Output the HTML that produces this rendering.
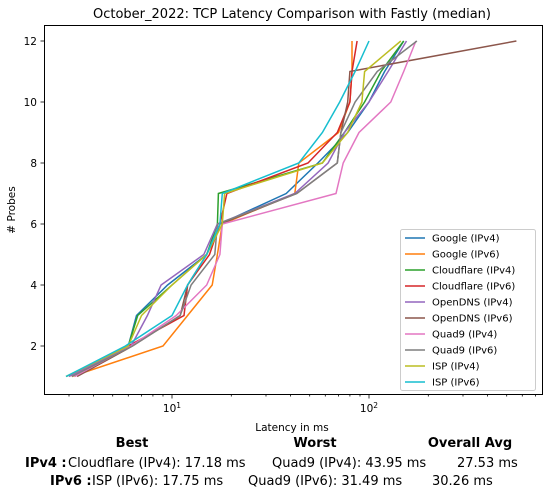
<!DOCTYPE html>
<html><head><meta charset="utf-8"><style>
body{margin:0;background:#fff;width:548px;height:494px;overflow:hidden;font-family:"DejaVu Sans","Liberation Sans",sans-serif}
svg text{font-family:"DejaVu Sans","Liberation Sans",sans-serif}
</style></head><body>
<svg id="chart" width="548" height="494" viewBox="0 0 548 494" xmlns="http://www.w3.org/2000/svg">
<text x="292" y="18" font-size="13" text-anchor="middle">October_2022: TCP Latency Comparison with Fastly (median)</text>
<g id="plot"></g>
<rect x="44.5" y="25.5" width="498" height="369" fill="none" stroke="#000" stroke-width="1"/>
<g id="axes"></g>
<text x="0" y="0" font-size="10.5" text-anchor="middle" transform="translate(15,210) rotate(-90)"># Probes</text>
<text x="292" y="431" font-size="10.5" text-anchor="middle">Latency in ms</text>
<g id="legend"></g>
<g font-size="13">
<text x="132" y="447" font-weight="bold" text-anchor="middle">Best</text>
<text x="315" y="447" font-weight="bold" text-anchor="middle">Worst</text>
<text x="470" y="447" font-weight="bold" text-anchor="middle">Overall Avg</text>
<text x="25" y="467" font-weight="bold">IPv4 :</text>
<text x="68" y="467">Cloudflare (IPv4): 17.18 ms</text>
<text x="272" y="467">Quad9 (IPv4): 43.95 ms</text>
<text x="457" y="467">27.53 ms</text>
<text x="50" y="485" font-weight="bold">IPv6 :</text>
<text x="92" y="485">ISP (IPv6): 17.75 ms</text>
<text x="248" y="485">Quad9 (IPv6): 31.49 ms</text>
<text x="432" y="485">30.26 ms</text>
</g>
</svg>
<script>
const seriesNames=["Google (IPv4)","Google (IPv6)","Cloudflare (IPv4)","Cloudflare (IPv6)","OpenDNS (IPv4)","OpenDNS (IPv6)","Quad9 (IPv4)","Quad9 (IPv6)","ISP (IPv4)","ISP (IPv6)"];
const colors=["#1f77b4","#ff7f0e","#2ca02c","#d62728","#9467bd","#8c564b","#e377c2","#7f7f7f","#bcbd22","#17becf"];
const probes=[1,2,3,4,5,6,7,8,9,10,11,12];
const googleV4=[2.9,6.0,6.6,9.5,15,17.5,38,55,78,100,120,150];
const googleV6=[3.1,9.0,12,16,17,18,42,44,70,80,82,82];
const cloudflareV4=[2.9,6.0,6.7,10,15,17,17.2,58,75,95,115,150];
const cloudflareV6=[3.2,6.0,11.5,12,15.5,17.5,19,49,69,80,82,87];
const opendnsV4=[3.0,6.2,7.5,8.8,14.5,17,42,62,75,100,125,155];
const opendnsV6=[3.3,6.3,11,12,15,17.5,43,69,72,78,80,560];
const quad9V4=[3.2,6.2,10.5,15,17.5,18,68,74,89,129,150,173];
const quad9V6=[3.1,6.3,11,12.5,16.5,17,43,69,72,85,110,175];
const ispV4=[2.9,6.0,7,10,15,18,18.5,58,78,92,95,145];
const ispV6=[2.9,5.8,10,12,15,17.5,18,44,58,71,85,100];
const yTicks=[2,4,6,8,10,12];
const xMajor=[10,100];
const allSeries=[googleV4,googleV6,cloudflareV4,cloudflareV6,opendnsV4,opendnsV6,quad9V4,quad9V6,ispV4,ispV6];

const NS="http://www.w3.org/2000/svg";
function xs(v){return 172+(Math.log10(v)-1)*197;}
function ys(p){return 376.5-(p-1)*30.5;}
const plot=document.getElementById('plot');
allSeries.forEach((s,i)=>{
  const pl=document.createElementNS(NS,'polyline');
  pl.setAttribute('points',s.map((v,k)=>xs(v).toFixed(1)+','+ys(probes[k]).toFixed(1)).join(' '));
  pl.setAttribute('fill','none');pl.setAttribute('stroke',colors[i]);pl.setAttribute('stroke-width','1.5');
  
  
  plot.appendChild(pl);
});
const axes=document.getElementById('axes');
function line(x1,y1,x2,y2){const l=document.createElementNS(NS,'line');l.setAttribute('x1',x1);l.setAttribute('y1',y1);l.setAttribute('x2',x2);l.setAttribute('y2',y2);l.setAttribute('stroke','#000');l.setAttribute('stroke-width','0.8');axes.appendChild(l);return l;}
yTicks.forEach(t=>{
  const y=ys(t);
  const tk=line(44.5,y,40.5,y);
  
  
  const tx=document.createElementNS(NS,'text');
  tx.setAttribute('x',37);tx.setAttribute('y',y+4);tx.setAttribute('font-size','10.5');tx.setAttribute('text-anchor','end');
  tx.textContent=t;
  
  
  axes.appendChild(tx);
});
for(let d=1;d<=100;d*=10){for(let m=1;m<10;m++){const v=d*m;const x=xs(v);if(x<45||x>542)continue;
  const major=(m===1);const tk=line(x,394.5,x,major?398.5:396.5);
  
  
}}
xMajor.forEach(v=>{
  const x=xs(v);
  const tx=document.createElementNS(NS,'text');
  tx.setAttribute('x',x);tx.setAttribute('y',412);tx.setAttribute('font-size','10.5');tx.setAttribute('text-anchor','middle');
  tx.innerHTML='10<tspan dy="-4" font-size="7.5">'+Math.round(Math.log10(v))+'</tspan>';
  
  
  axes.appendChild(tx);
});
const lg=document.getElementById('legend');
const box=document.createElementNS(NS,'rect');
box.setAttribute('x',400.5);box.setAttribute('y',229.5);box.setAttribute('width',135);box.setAttribute('height',161);box.setAttribute('rx',2);
box.setAttribute('fill','#fff');box.setAttribute('fill-opacity','0.85');box.setAttribute('stroke','#ccc');


lg.appendChild(box);
seriesNames.forEach((n,i)=>{
  const y=238+i*16;
  const l=document.createElementNS(NS,'line');
  l.setAttribute('x1',405);l.setAttribute('x2',425);l.setAttribute('y1',y);l.setAttribute('y2',y);l.setAttribute('stroke',colors[i]);l.setAttribute('stroke-width','1.5');
  
  
  lg.appendChild(l);
  const t=document.createElementNS(NS,'text');
  t.setAttribute('x',432);t.setAttribute('y',y+3.5);t.setAttribute('font-size','10');t.textContent=n;
  
  
  lg.appendChild(t);
});
</script>
</body></html>
